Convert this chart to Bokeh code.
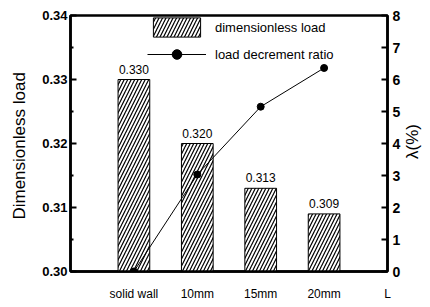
import math
from bokeh.plotting import figure
from bokeh.models import (Range1d, LinearAxis, FixedTicker, Legend, LegendItem,
                          ColumnDataSource, NumeralTickFormatter, Label)
from bokeh.core.properties import value
from bokeh.embed import file_html
from bokeh.resources import INLINE

# ---- data ----
categories = ["solid wall", "10mm", "15mm", "20mm"]
positions = [1, 2, 3, 4]
load = [0.330, 0.320, 0.313, 0.309]
load_labels = ["0.330", "0.320", "0.313", "0.309"]
ratio = [0.0, 3.03, 5.15, 6.36]
x_end_label = "L"
left_ticks = [0.30, 0.31, 0.32, 0.33, 0.34]
left_minor = [0.305, 0.315, 0.325, 0.335]
right_ticks = [0, 1, 2, 3, 4, 5, 6, 7, 8]
right_title = "λ(%)"

FONT = "'Liberation Sans', Arial, sans-serif"

src = ColumnDataSource(dict(x=positions, load=load, lab=load_labels, ratio=ratio))

p = figure(width=422, height=303, x_range=Range1d(0, 5), y_range=Range1d(0.30, 0.34),
           output_backend="svg", toolbar_location=None,
           min_border_left=70, min_border_right=35, min_border_top=15, min_border_bottom=28)
p.extra_y_ranges = {"lam": Range1d(0, 8)}
p.grid.visible = False
p.outline_line_color = "black"
p.outline_line_width = 2.5
p.outline_line_alpha = 1
p.background_fill_color = "white"
p.border_fill_color = "white"

# bars
bars = p.vbar(x="x", top="load", bottom=0.30, width=0.5, source=src,
              fill_color="white", line_color="black", line_width=1,
              hatch_pattern="/", hatch_color="black", hatch_scale=7, hatch_weight=1.2)

# value labels
p.text(x="x", y="load", text="lab", source=src, text_align="center", text_baseline="bottom",
       y_offset=-6, text_font_size="12px", text_font=value(FONT), text_color="black")

# ratio line
ln = p.line(x="x", y="ratio", source=src, y_range_name="lam", line_color="black", line_width=1)
sc = p.scatter(x="x", y="ratio", source=src, y_range_name="lam", marker="circle", size=7,
               fill_color="black", line_color="black")


def style_axis(ax):
    ax.axis_line_color = "black"
    ax.axis_line_width = 2.5
    ax.major_tick_line_color = "black"
    ax.minor_tick_line_color = "black"
    ax.major_label_text_color = "black"
    ax.axis_label_text_color = "black"
    ax.major_label_text_font = FONT
    ax.axis_label_text_font = FONT
    ax.axis_label_text_font_style = "normal"


# x axis
xa = p.xaxis[0]
style_axis(xa)
xa.ticker = FixedTicker(ticks=positions + [5])
overrides = {pos: c for pos, c in zip(positions, categories)}
overrides[5] = x_end_label
xa.major_label_overrides = overrides
xa.major_tick_in = 0
xa.major_tick_out = 0
xa.minor_tick_in = 0
xa.minor_tick_out = 0
xa.major_label_standoff = 15
xa.major_label_text_font_size = "12px"

# left axis
ya = p.yaxis[0]
style_axis(ya)
ya.ticker = FixedTicker(ticks=left_ticks, minor_ticks=left_minor)
ya.formatter = NumeralTickFormatter(format="0.00")
ya.major_tick_in = 6
ya.major_tick_out = 0
ya.minor_tick_in = 3
ya.minor_tick_out = 0
ya.major_tick_line_width = 2
ya.minor_tick_line_width = 2
ya.major_label_standoff = 3
ya.major_label_text_font_size = "13px"
ya.major_label_text_font_style = "bold"
ya.axis_label = "Dimensionless  load"
ya.axis_label_text_font_size = "17px"
ya.axis_label_standoff = 10

# right axis
ra = LinearAxis(y_range_name="lam", ticker=FixedTicker(ticks=right_ticks))
style_axis(ra)
ra.major_tick_in = 6
ra.major_tick_out = 0
ra.minor_tick_in = 0
ra.minor_tick_out = 0
ra.major_tick_line_width = 2
ra.major_label_standoff = 5
ra.major_label_text_font_size = "14px"
ra.major_label_text_font_style = "bold"
p.add_layout(ra, "right")

# right axis title (reads bottom-to-top), in its own side panel
rt = Label(x=9, y=130, x_units="screen", y_units="screen", text=right_title,
           angle=math.pi / 2, text_align="center", text_baseline="middle",
           text_font=FONT, text_font_size="17px", text_color="black")
p.add_layout(rt, "right")

legend = Legend(items=[LegendItem(label="dimensionless load", renderers=[bars]),
                       LegendItem(label="load decrement ratio", renderers=[ln, sc])],
                location=(77, 205), glyph_width=59, glyph_height=24, spacing=3,
                padding=0, margin=0, label_standoff=9,
                label_text_font=FONT, label_text_font_size="13px", label_text_color="black",
                border_line_alpha=0, background_fill_alpha=0)
p.add_layout(legend)

open("out.html", "w").write(file_html(p, INLINE))
